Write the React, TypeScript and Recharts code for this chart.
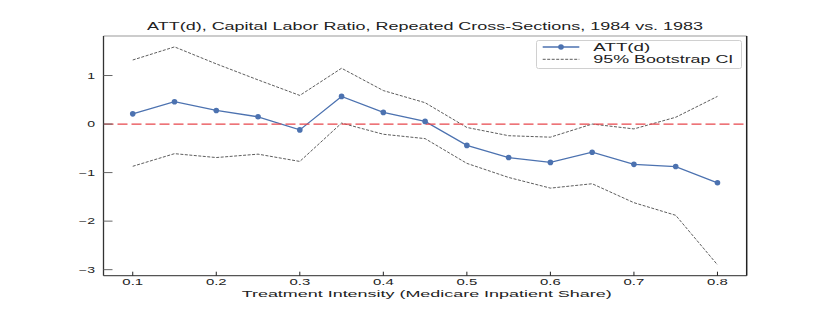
import React from 'react';
import { LineChart, Line, XAxis, YAxis, ReferenceLine, Legend, Customized } from 'recharts';

const intensity = [0.1, 0.15, 0.2, 0.25, 0.3, 0.35, 0.4, 0.45, 0.5, 0.55, 0.6, 0.65, 0.7, 0.75, 0.8];
const attValues = [0.21, 0.46, 0.28, 0.15, -0.12, 0.57, 0.24, 0.055, -0.44, -0.69, -0.79, -0.58, -0.83, -0.875, -1.21];
const ciUpper = [1.32, 1.59, 1.24, 0.91, 0.59, 1.15, 0.69, 0.44, -0.07, -0.24, -0.27, 0.0, -0.1, 0.14, 0.57];
const ciLower = [-0.87, -0.61, -0.69, -0.62, -0.77, 0.02, -0.21, -0.3, -0.81, -1.1, -1.32, -1.23, -1.62, -1.88, -2.9];
const xTicks = [0.1, 0.2, 0.3, 0.4, 0.5, 0.6, 0.7, 0.8];
const yTicks = [-3, -2, -1, 0, 1];
const xDomain = [0.065, 0.835];
const yDomain = [-3.1245, 1.8145];
const titleText = 'ATT(d), Capital Labor Ratio, Repeated Cross-Sections, 1984 vs. 1983';
const xLabelText = 'Treatment Intensity (Medicare Inpatient Share)';
const legendLabels = ['ATT(d)', '95% Bootstrap CI'];

const data = intensity.map((d, i) => ({ d, att: attValues[i], upper: ciUpper[i], lower: ciLower[i] }));

const FONT = '"Liberation Sans", Arial, Helvetica, sans-serif';
const BLUE = '#4c72b0';
const TEXT = '#222';

const W = 830;
const H = 310;
const M = { top: 35, right: 82.3, bottom: 33.3, left: 102.5 };

const XTick = (props: any) => {
  const { x, y, payload } = props;
  return (
    <g>
      <line x1={x} x2={x} y1={y} y2={y - 4} stroke="#222" strokeWidth={1} />
      <g transform={`translate(${x},${y + 8.9}) scale(1.8,1)`}>
        <text x={0} y={0} textAnchor="middle" fontSize={8.3} fill={TEXT} fontFamily={FONT}>
          {Number(payload.value).toFixed(1)}
        </text>
      </g>
    </g>
  );
};

const YTick = (props: any) => {
  const { x, y, payload } = props;
  const v = Number(payload.value);
  const label = v < 0 ? '\u2212' + Math.abs(v) : String(v);
  return (
    <g>
      <line x1={x} x2={x + 9} y1={y} y2={y} stroke="#666" strokeWidth={1} />
      <g transform={`translate(${x - 8.5},${y + 3}) scale(1.7,1)`}>
        <text x={0} y={0} textAnchor="end" fontSize={8.3} fill={TEXT} fontFamily={FONT}>
          {label}
        </text>
      </g>
    </g>
  );
};

const Texts = () => (
  <g>
    <text
      x={425.1}
      y={29.6}
      textAnchor="middle"
      fontSize={10.5}
      fill={TEXT}
      fontFamily={FONT}
      textLength={556}
      lengthAdjust="spacingAndGlyphs"
    >
      {titleText}
    </text>
    <text
      x={426.7}
      y={296.7}
      textAnchor="middle"
      fontSize={9.5}
      fill={TEXT}
      fontFamily={FONT}
      textLength={370}
      lengthAdjust="spacingAndGlyphs"
    >
      {xLabelText}
    </text>
  </g>
);

const LegendBox = () => (
  <svg width={207} height={30} style={{ display: 'block', overflow: 'visible' }}>
    <rect x={0.5} y={0.5} width={205} height={28} rx={2} fill="#fff" fillOpacity={0.85} stroke="#d0d0d0" strokeWidth={1} />
    <line x1={6.7} x2={43.3} y1={7} y2={7} stroke={BLUE} strokeWidth={1.3} />
    <circle cx={25} cy={7} r={2.8} fill={BLUE} />
    <line x1={6.7} x2={43.3} y1={19.3} y2={19.3} stroke="#333" strokeWidth={0.8} strokeDasharray="3 1.5" />
    <text x={57.3} y={10.6} fontSize={10} fill={TEXT} fontFamily={FONT} textLength={57} lengthAdjust="spacingAndGlyphs">
      {legendLabels[0]}
    </text>
    <text x={57.3} y={23} fontSize={10} fill={TEXT} fontFamily={FONT} textLength={140} lengthAdjust="spacingAndGlyphs">
      {legendLabels[1]}
    </text>
  </svg>
);

export default function App() {
  return (
    <div style={{ position: 'absolute', left: 0, top: 0, width: W, height: H, background: '#fff' }}>
      <LineChart width={W} height={H} data={data} margin={M} style={{ fontFamily: FONT }}>
        <XAxis
          dataKey="d"
          type="number"
          domain={xDomain}
          ticks={xTicks}
          interval={0}
          allowDataOverflow
          height={1}
          tickSize={0}
          tickMargin={0}
          tickLine={false}
          axisLine={{ stroke: '#555', strokeWidth: 1.2 }}
          tick={<XTick />}
        />
        <XAxis
          xAxisId="top"
          orientation="top"
          type="number"
          domain={xDomain}
          allowDataOverflow
          height={1}
          tick={false}
          tickLine={false}
          axisLine={{ stroke: '#999', strokeWidth: 1 }}
        />
        <YAxis
          type="number"
          domain={yDomain}
          ticks={yTicks}
          interval={0}
          allowDataOverflow
          width={1}
          tickSize={0}
          tickMargin={0}
          tickLine={false}
          axisLine={{ stroke: '#333', strokeWidth: 1.3 }}
          tick={<YTick />}
        />
        <YAxis
          yAxisId="right"
          orientation="right"
          type="number"
          domain={yDomain}
          allowDataOverflow
          width={1}
          tick={false}
          tickLine={false}
          axisLine={{ stroke: '#222', strokeWidth: 1.5 }}
        />
        <Line
          dataKey="upper"
          stroke="#333"
          strokeWidth={0.8}
          strokeDasharray="3 1.5"
          dot={false}
          activeDot={false}
          isAnimationActive={false}
          legendType="none"
        />
        <Line
          dataKey="lower"
          stroke="#333"
          strokeWidth={0.8}
          strokeDasharray="3 1.5"
          dot={false}
          activeDot={false}
          isAnimationActive={false}
          legendType="none"
        />
        <Line
          dataKey="att"
          stroke={BLUE}
          strokeWidth={1.3}
          dot={{ r: 2.8, fill: BLUE, stroke: 'none' }}
          activeDot={false}
          isAnimationActive={false}
        />
        <ReferenceLine y={0} stroke="#e8474c" strokeWidth={1.3} strokeDasharray="10 4" />
        <Legend
          layout="vertical"
          align="center"
          verticalAlign="middle"
          content={<LegendBox />}
          wrapperStyle={{ position: 'absolute', left: 536, top: 40, width: 207, height: 30 }}
        />
        <Customized component={<Texts />} />
      </LineChart>
    </div>
  );
}
